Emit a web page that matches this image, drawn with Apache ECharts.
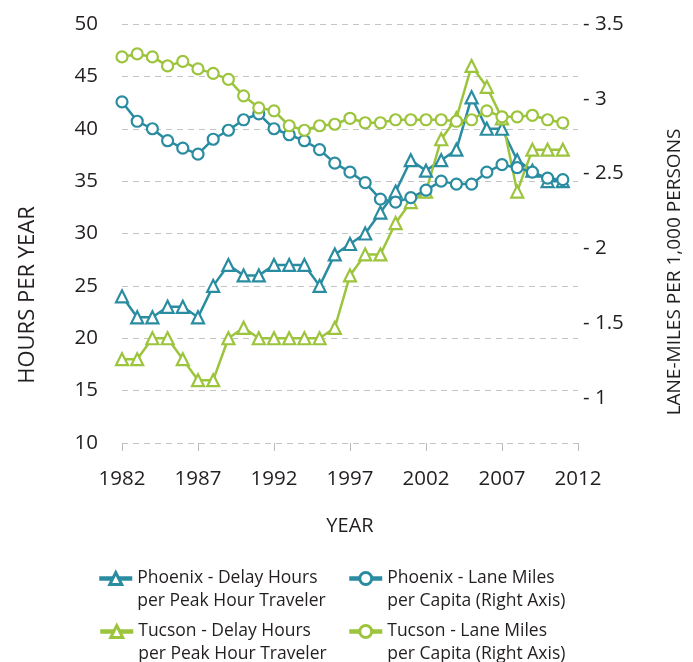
<!DOCTYPE html>
<html>
<head>
<meta charset="utf-8">
<title>Delay hours and lane miles</title>
<script src="https://cdn.jsdelivr.net/npm/echarts@6/dist/echarts.min.js"></script>
<style>
  html, body { margin: 0; padding: 0; background: #fff; }
  #charts { width: 693px; height: 662px; }
</style>
</head>
<body>
<div id="charts"></div>
<script type="text/javascript">
var years = [1982, 1983, 1984, 1985, 1986, 1987, 1988, 1989, 1990, 1991,
             1992, 1993, 1994, 1995, 1996, 1997, 1998, 1999, 2000, 2001,
             2002, 2003, 2004, 2005, 2006, 2007, 2008, 2009, 2010, 2011];

// hours per year (left axis)
var phxDelay = [24, 22, 22, 23, 23, 22, 25, 27, 26, 26,
                27, 27, 27, 25, 28, 29, 30, 32, 34, 37,
                36, 37, 38, 43, 40, 40, 37, 36, 35, 35];
var tucDelay = [18, 18, 20, 20, 18, 16, 16, 20, 21, 20,
                20, 20, 20, 20, 21, 26, 28, 28, 31, 33,
                34, 39, 41, 46, 44, 41, 34, 38, 38, 38];

// lane-miles per 1,000 persons (right axis)
var phxLane = [2.98, 2.85, 2.80, 2.72, 2.67, 2.63, 2.73, 2.79, 2.86, 2.90,
               2.80, 2.76, 2.72, 2.66, 2.57, 2.51, 2.44, 2.33, 2.31, 2.34,
               2.39, 2.45, 2.43, 2.43, 2.51, 2.56, 2.54, 2.51, 2.47, 2.46];
var tucLane = [3.28, 3.30, 3.28, 3.22, 3.25, 3.20, 3.17, 3.13, 3.02, 2.94,
               2.92, 2.82, 2.79, 2.82, 2.83, 2.87, 2.84, 2.84, 2.86, 2.86,
               2.86, 2.86, 2.85, 2.86, 2.92, 2.88, 2.88, 2.89, 2.86, 2.84];

var rightTicks = [1, 1.5, 2, 2.5, 3, 3.5];

var teal = '#2a8ca1';
var green = '#9cc43c';
var ink = '#231f20';
var font = 'Open Sans';

var names = [
    'Phoenix - Delay Hours\nper Peak Hour Traveler',
    'Phoenix - Lane Miles\nper Capita (Right Axis)',
    'Tucson - Delay Hours\nper Peak Hour Traveler',
    'Tucson - Lane Miles\nper Capita (Right Axis)'
];

function pairs(vals) {
    return years.map(function (y, i) { return [y, vals[i]]; });
}

function lineSeries(name, vals, color, symbol, axis) {
    return {
        name: name,
        type: 'line',
        yAxisIndex: axis,
        data: pairs(vals),
        symbol: symbol,
        symbolSize: symbol === 'circle' ? 11 : 12,
        showSymbol: true,
        lineStyle: { color: color, width: 2.5 },
        itemStyle: { color: '#fff', borderColor: color, borderWidth: 2.2 },
        emphasis: { disabled: true },
        z: axis === 1 ? 3 : 2
    };
}

// icon lines up with the first text line, so pad the label with an empty line on top
function legendAt(name, left, top) {
    return {
        data: [name],
        left: left,
        top: top,
        itemWidth: 33,
        itemHeight: 15,
        itemGap: 4,
        selectedMode: false,
        lineStyle: { width: 4.5 },
        itemStyle: { borderWidth: 3 },
        formatter: function (n) { return ' \n' + n; },
        textStyle: {
            fontFamily: font,
            fontSize: 17.5,
            color: ink,
            lineHeight: 23
        }
    };
}

var dom = document.getElementById('charts');
var myChart = echarts.init(dom, null, { renderer: 'canvas' });

var option = {
    animation: false,
    backgroundColor: '#fff',
    grid: { left: 122, right: 115, top: 24, bottom: 219 },
    xAxis: {
        type: 'value',
        min: 1982,
        max: 2012,
        interval: 5,
        name: 'YEAR',
        nameLocation: 'middle',
        nameGap: 73,
        nameTextStyle: { fontFamily: font, fontSize: 20, color: ink },
        axisLine: { show: false },
        axisTick: { show: true, length: 8, lineStyle: { color: '#bbb' } },
        splitLine: { show: false },
        axisLabel: {
            margin: 26,
            fontFamily: font,
            fontSize: 20.5,
            color: ink,
            formatter: function (v) { return String(v); }
        }
    },
    yAxis: [
        {
            type: 'value',
            min: 10,
            max: 50,
            interval: 5,
            axisLine: { show: false },
            axisTick: { show: false },
            splitLine: { lineStyle: { color: '#c4c4c4', type: [6, 5], width: 1.2 } },
            axisLabel: { margin: 24, fontFamily: font, fontSize: 20.5, color: ink }
        },
        {
            type: 'value',
            min: 0.7,
            max: 3.5,
            position: 'right',
            axisLine: { show: false },
            axisTick: { show: false },
            splitLine: { show: false },
            axisLabel: {
                margin: 5,
                customValues: rightTicks,
                fontFamily: font,
                fontSize: 20.5,
                color: ink,
                formatter: function (v) { return '- ' + v; }
            }
        }
    ],
    legend: [
        legendAt(names[0], 92, 539),
        legendAt(names[1], 342, 539),
        legendAt(names[2], 93, 592),
        legendAt(names[3], 342, 592)
    ],
    graphic: [
        {
            type: 'text',
            x: 28, y: 295,
            rotation: Math.PI / 2,
            style: {
                text: 'HOURS PER YEAR',
                fontFamily: font, fontSize: 22, fill: ink,
                textAlign: 'center', textVerticalAlign: 'middle'
            }
        },
        {
            type: 'text',
            x: 675, y: 272,
            rotation: Math.PI / 2,
            style: {
                text: 'LANE-MILES PER 1,000 PERSONS',
                fontFamily: font, fontSize: 19, fill: ink,
                textAlign: 'center', textVerticalAlign: 'middle'
            }
        }
    ],
    series: [
        lineSeries(names[0], phxDelay, teal, 'triangle', 0),
        lineSeries(names[1], phxLane, teal, 'circle', 1),
        lineSeries(names[2], tucDelay, green, 'triangle', 0),
        lineSeries(names[3], tucLane, green, 'circle', 1)
    ]
};

myChart.setOption(option, true);
</script>
</body>
</html>
